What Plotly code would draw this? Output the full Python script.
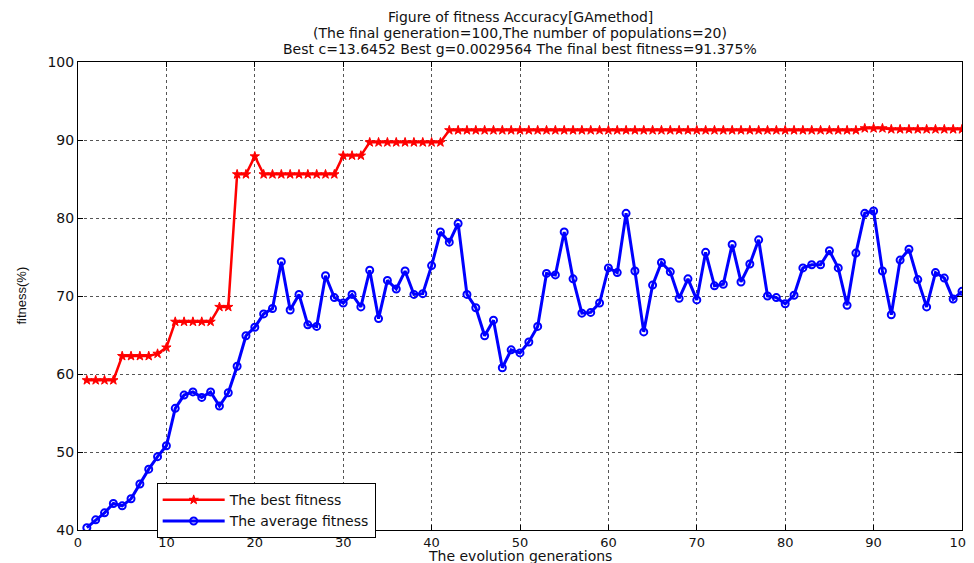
import plotly.graph_objects as go

generations = list(range(1, 101))

best_fitness = (
    [59.2] * 4 + [62.3] * 4 + [62.6, 63.4] + [66.7] * 5 + [68.6] * 2 + [85.6] * 2 + [87.9]
    + [85.6] * 9 + [88.0] * 3 + [89.7] * 9 + [91.25] * 47 + [91.5] * 3 + [91.375] * 9
)

avg_fitness = [
    40.3, 41.3, 42.2, 43.4, 43.1, 44.0, 45.9, 47.8, 49.4, 50.8,
    55.6, 57.3, 57.7, 57.0, 57.7, 55.9, 57.6, 61.0, 64.9, 66.0,
    67.7, 68.4, 74.4, 68.2, 70.2, 66.3, 66.1, 72.6, 69.8, 69.1,
    70.2, 68.6, 73.3, 67.1, 72.0, 70.9, 73.2, 70.2, 70.3, 73.9,
    78.2, 76.9, 79.3, 70.2, 68.5, 64.9, 66.9, 60.8, 63.1, 62.7,
    64.1, 66.1, 72.9, 72.7, 78.2, 72.2, 67.8, 67.9, 69.1, 73.6,
    73.0, 80.6, 73.2, 65.4, 71.4, 74.3, 73.1, 69.7, 72.2, 69.5,
    75.6, 71.3, 71.5, 76.6, 71.8, 74.1, 77.2, 70.0, 69.8, 69.0,
    70.1, 73.6, 74.0, 74.0, 75.8, 73.6, 68.8, 75.5, 80.6, 80.9,
    73.2, 67.6, 74.6, 76.0, 72.1, 68.6, 73.0, 72.3, 69.6, 70.6,
]

x_ticks = list(range(0, 101, 10))
y_ticks = list(range(40, 101, 10))

title_lines = [
    "Figure of fitness Accuracy[GAmethod]",
    "(The final generation=100,The number of populations=20)",
    "Best c=13.6452 Best g=0.0029564 The final best fitness=91.375%",
]
x_title = "The evolution generations"
y_title = "fitness(%)"

wide_font = "DejaVu Sans, Verdana, sans-serif"
narrow_font = "Liberation Sans, Arial, sans-serif"
text_color = "#111111"

fig = go.Figure()
fig.add_trace(go.Scatter(
    x=generations, y=best_fitness, mode="lines+markers",
    name="The best fitness",
    line=dict(color="#ff0000", width=2.5),
    marker=dict(symbol="star", size=7, color="#ff0000", line=dict(color="#ff0000", width=1)),
))
fig.add_trace(go.Scatter(
    x=generations, y=avg_fitness, mode="lines+markers",
    name="The average fitness",
    line=dict(color="#0000ff", width=3),
    marker=dict(symbol="circle-open", size=7, color="#0000ff", line=dict(color="#0000ff", width=2)),
))

axis_common = dict(
    showline=True, linecolor="black", linewidth=1, mirror="ticks",
    ticks="inside", ticklen=5, tickcolor="black",
    showgrid=True, gridcolor="#555555", griddash="dot", gridwidth=1,
    zeroline=False, automargin=False,
)

fig.update_xaxes(range=[0, 100], tickvals=x_ticks,
                 tickfont=dict(size=13, color=text_color, family=wide_font), **axis_common)
fig.update_yaxes(range=[40, 100], tickvals=y_ticks,
                 tickfont=dict(size=14, color=text_color, family=wide_font), **axis_common)

# plot area is 468 px tall (top edge 54 px below the figure top)
title_y = [1.0962, 1.0620, 1.0278]
for line, yy in zip(title_lines, title_y):
    fig.add_annotation(text=line, xref="paper", yref="paper", x=0.5, y=yy,
                       xanchor="center", yanchor="middle", showarrow=False,
                       font=dict(size=14, color=text_color, family=wide_font))

fig.add_annotation(text=x_title, xref="paper", yref="paper", x=0.5, y=-0.0545,
                   xanchor="center", yanchor="middle", showarrow=False,
                   font=dict(size=14, color=text_color, family=wide_font))
fig.add_annotation(text=y_title, xref="paper", yref="paper", x=-0.065, y=0.5,
                   xanchor="center", yanchor="middle", showarrow=False, textangle=-90,
                   font=dict(size=13, color=text_color, family=narrow_font))

fig.update_layout(
    width=974, height=563,
    margin=dict(l=70, r=20, t=54, b=41),
    paper_bgcolor="white", plot_bgcolor="white",
    font=dict(family=wide_font, color=text_color),
    legend=dict(x=0.089, y=0.10, xanchor="left", yanchor="top",
                bordercolor="black", borderwidth=1, bgcolor="white",
                font=dict(size=14, color=text_color, family=wide_font),
                tracegroupgap=0, itemwidth=62),
    showlegend=True,
)

fig.write_html("out.html")
